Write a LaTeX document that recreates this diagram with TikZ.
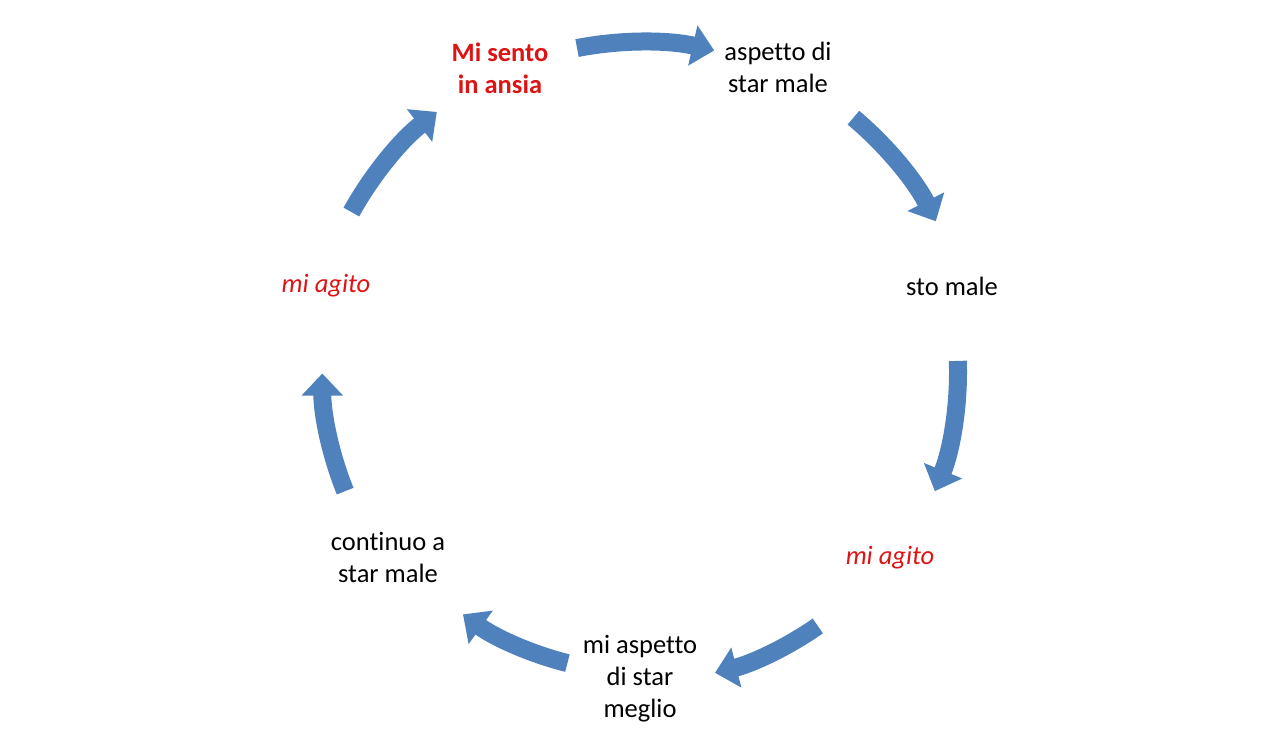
\documentclass[tikz,border=0pt]{standalone}
\usepackage{fontspec}
\setmainfont{Carlito}[Ligatures=NoCommon]
\usetikzlibrary{arrows.meta}
\definecolor{ab}{RGB}{79,129,189}
\definecolor{rt}{RGB}{220,20,20}
\begin{document}
\begin{tikzpicture}[x=1pt,y=-1pt,
 lab/.style={align=center,font=\fontsize{26.5}{32}\selectfont},
 arr/.style={ab,line width=18pt,-{Triangle[width=40pt,length=22pt]}}]
\useasboundingbox (0,0) rectangle (1280,747);
\coordinate (c) at (640,372);
\node[lab,text=rt,font=\fontsize{26.5}{32}\selectfont\bfseries] (n1) at (500,68) {Mi sento\\in ansia};
\node[lab] (n2) at (778,67) {aspetto di\\star male};
\node[lab] (n3) at (952,286) {sto male};
\node[lab,text=rt,font=\fontsize{26.5}{32}\selectfont\itshape] (n4) at (890,558) {mi agito};
\node[lab] (n5) at (640,679) {mi aspetto\\di star\\meglio};
\node[lab] (n6) at (388,557) {continuo a\\star male};
\node[lab,text=rt,font=\fontsize{26.5}{32}\selectfont\itshape] (n7) at (326,286) {mi agito};
\begin{scope}[y=1pt]
\draw[arr] (c) ++(101:330) arc[start angle=101,end angle=77,radius=330];
\draw[arr] (c) ++(50:332) arc[start angle=50,end angle=27,radius=332];
\draw[arr] (c) ++(2:318) arc[start angle=2,end angle=-22,radius=318];
\draw[arr] (c) ++(-55:310) arc[start angle=-55,end angle=-76,radius=310];
\draw[arr] (c) ++(-104:300) arc[start angle=-104,end angle=-126,radius=302];
\draw[arr] (c) ++(-158:318) arc[start angle=-158,end angle=-180,radius=314];
\draw[arr] (c) ++(151:330) arc[start angle=151,end angle=128,radius=330];
\end{scope}
\end{tikzpicture}
\end{document}
